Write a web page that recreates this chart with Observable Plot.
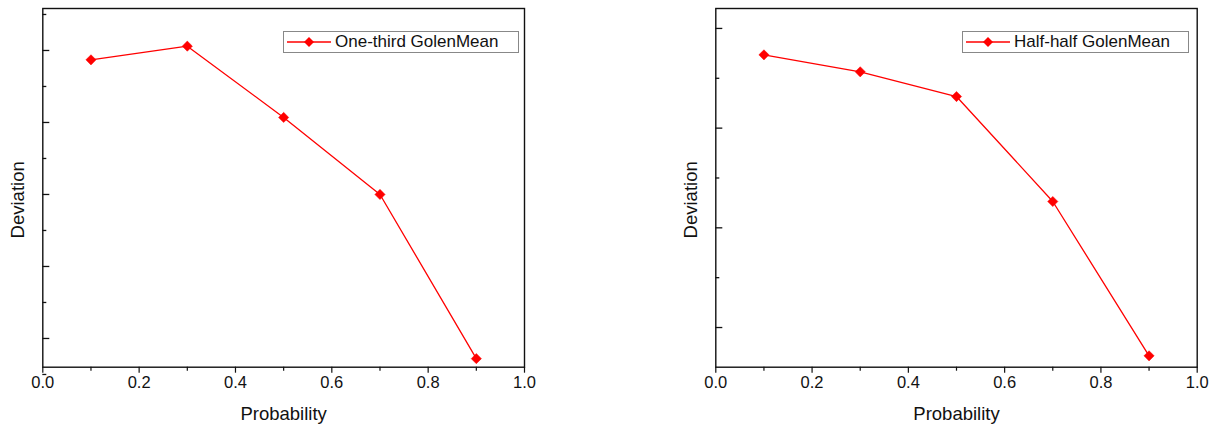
<!DOCTYPE html>
<html>
<head>
<meta charset="utf-8">
<script src="https://cdn.jsdelivr.net/npm/d3@7"></script>
<script src="https://cdn.jsdelivr.net/npm/@observablehq/plot@0.6"></script>
<style>
  body { margin: 0; background: #fff; font-family: "Liberation Sans", Arial, sans-serif; }
  #wrap { position: relative; width: 1219px; height: 425px; overflow: hidden; }
  .panel { position: absolute; top: 0; }
  .legend { position: absolute; height: 22px; border: 1px solid #888; background: #fff;
            display: flex; align-items: center; font-size: 17px; color: #111; box-sizing: border-box; }
  .legend svg { display: block; margin: 0 4px 0 3px; }
</style>
</head>
<body>
<div id="wrap"></div>
<script>
// ---- data (y values in relative units; the reference shows no y tick labels) ----
const probability = [0.1, 0.3, 0.5, 0.7, 0.9];
const oneThirdDeviation = [4.87, 5.06, 4.07, 3.00, 0.72];
const halfHalfDeviation = [3.735, 3.565, 3.317, 2.264, 0.716];
const seriesNames = ["One-third GolenMean", "Half-half GolenMean"];
const xMajorTicks = [0, 0.2, 0.4, 0.6, 0.8, 1.0];
const xMinorTicks = [0.1, 0.3, 0.5, 0.7, 0.9];
const leftYMajor = [1, 2, 3, 4, 5];
const leftYMinor = [0.5, 1.5, 2.5, 3.5, 4.5, 5.5];
const rightYMajor = [1, 2, 3, 4];
const rightYMinor = [1.5, 2.5, 3.5];
const leftYDomain = [0.601, 5.583];
const rightYDomain = [0.602, 4.2];

const wrap = document.getElementById("wrap");
const FONT = "Liberation Sans, Arial, sans-serif";

function makePanel({left, width, marginRight, values, yDomain, yMajor, yMinor, name, legendLeft, legendWidth}) {
  const data = probability.map((p, i) => ({p, v: values[i]}));
  const chart = Plot.plot({
    width, height: 425,
    marginLeft: 42.3, marginRight, marginTop: 8, marginBottom: 58.3,
    style: {fontFamily: FONT, color: "#111", background: "transparent", overflow: "visible"},
    x: {domain: [0, 1]},
    y: {domain: yDomain},
    marks: [
      Plot.axisX({ticks: xMajorTicks, tickSize: 6, tickPadding: 3, tickFormat: d3.format(".1f"), fontSize: 16.5, label: null, strokeWidth: 1.2}),
      Plot.axisX({ticks: xMinorTicks, tickSize: 4, text: null, label: null, strokeWidth: 1.2}),
      Plot.axisY({ticks: yMajor, tickSize: -7, text: null, label: null, strokeWidth: 1.3}),
      Plot.axisY({ticks: yMinor, tickSize: -4, text: null, label: null, strokeWidth: 1.3}),
      Plot.frame({stroke: "#111", strokeWidth: 1.4}),
      Plot.line(data, {x: "p", y: "v", stroke: "#ff0000", strokeWidth: 1.3}),
      Plot.dot(data, {x: "p", y: "v", symbol: "diamond2", r: 4.6, fill: "#ff0000", stroke: "#ff0000", strokeWidth: 0.5}),
      Plot.text(["Probability"], {frameAnchor: "bottom", dy: 47, fontSize: 18.5, lineAnchor: "middle", fill: "#111"}),
      Plot.text(["Deviation"], {frameAnchor: "left", dx: -25, dy: 12, rotate: -90, fontSize: 18.5, lineAnchor: "middle", textAnchor: "middle", fill: "#111"})
    ]
  });
  const div = document.createElement("div");
  div.className = "panel";
  div.style.left = left + "px";
  div.appendChild(chart);
  wrap.appendChild(div);

  const leg = document.createElement("div");
  leg.className = "legend";
  leg.style.left = legendLeft + "px";
  leg.style.top = "31px";
  leg.style.width = legendWidth + "px";
  leg.innerHTML = `<svg width="44" height="14"><line x1="0" y1="7" x2="44" y2="7" stroke="#ff0000" stroke-width="1.5"/>` +
    `<path d="M22,2 L27,7 L22,12 L17,7 Z" fill="#ff0000"/></svg><span>${name}</span>`;
  wrap.appendChild(leg);
}

makePanel({left: 0, width: 560, marginRight: 36, values: oneThirdDeviation, yDomain: leftYDomain,
  yMajor: leftYMajor, yMinor: leftYMinor, name: seriesNames[0], legendLeft: 283, legendWidth: 236});
makePanel({left: 673, width: 546, marginRight: 22.3, values: halfHalfDeviation, yDomain: rightYDomain,
  yMajor: rightYMajor, yMinor: rightYMinor, name: seriesNames[1], legendLeft: 962, legendWidth: 227});
</script>
</body>
</html>
